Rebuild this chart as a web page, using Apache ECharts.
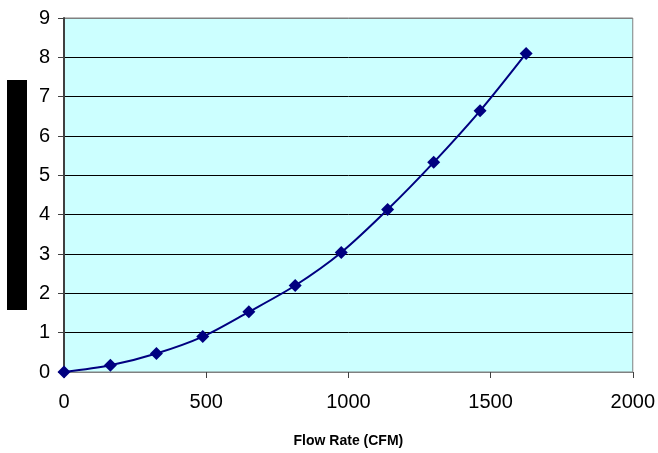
<!DOCTYPE html>
<html>
<head>
<meta charset="utf-8">
<script src="https://cdn.jsdelivr.net/npm/echarts@6/dist/echarts.min.js"></script>
<style>
  html, body { margin: 0; padding: 0; background: #fff; }
  #chart { width: 658px; height: 453px; }
</style>
</head>
<body>
<div id="chart"></div>
<script>
// flow rate (CFM) vs reading
var flowRate = [0, 163, 325, 488, 650, 813, 975, 1138, 1300, 1463, 1625];
var pressure = [0, 0.17, 0.47, 0.9, 1.53, 2.2, 3.04, 4.13, 5.33, 6.64, 8.1];
var xTitle = "Flow Rate (CFM)";

var chart = echarts.init(document.getElementById("chart"));

var points = flowRate.map(function (x, i) {
  return [x, pressure[i]];
});

var option = {
  animation: false,
  textStyle: { fontFamily: "Liberation Sans, Arial, sans-serif" },
  grid: {
    left: 64,
    right: 25,
    top: 18,
    bottom: 81,
    show: true,
    backgroundColor: "#CCFFFF",
    borderColor: "#808080",
    borderWidth: 1
  },
  graphic: [
    {
      type: "rect",
      shape: { x: 7, y: 80, width: 20, height: 230 },
      style: { fill: "#000" }
    }
  ],
  xAxis: {
    type: "value",
    min: 0,
    max: 2000,
    interval: 500,
    name: xTitle,
    nameLocation: "middle",
    nameGap: 62,
    nameTextStyle: { fontSize: 14, fontWeight: "bold", color: "#000" },
    axisLine: { show: true, lineStyle: { color: "#808080", width: 1 } },
    axisTick: { show: true, length: 6, lineStyle: { color: "#404040" } },
    axisLabel: {
      fontSize: 20,
      color: "#000",
      margin: 20,
      formatter: function (v) { return String(v); }
    },
    splitLine: { show: false }
  },
  yAxis: {
    type: "value",
    min: 0,
    max: 9,
    interval: 1,
    axisLine: { show: true, lineStyle: { color: "#404040", width: 2 } },
    axisTick: { show: true, length: 6, lineStyle: { color: "#404040" } },
    axisLabel: { fontSize: 20, color: "#000", margin: 14 },
    splitLine: {
      show: true,
      lineStyle: {
        color: ["#000", "#000", "#000", "#000", "#000", "#000", "#000", "#000", "#000", "#808080"],
        width: 1
      }
    }
  },
  series: [
    {
      type: "line",
      data: points,
      smooth: 0.3,
      symbol: "diamond",
      symbolSize: 13,
      lineStyle: { color: "#000080", width: 2 },
      itemStyle: { color: "#000080" },
      z: 10
    }
  ]
};

chart.setOption(option);
</script>
</body>
</html>
